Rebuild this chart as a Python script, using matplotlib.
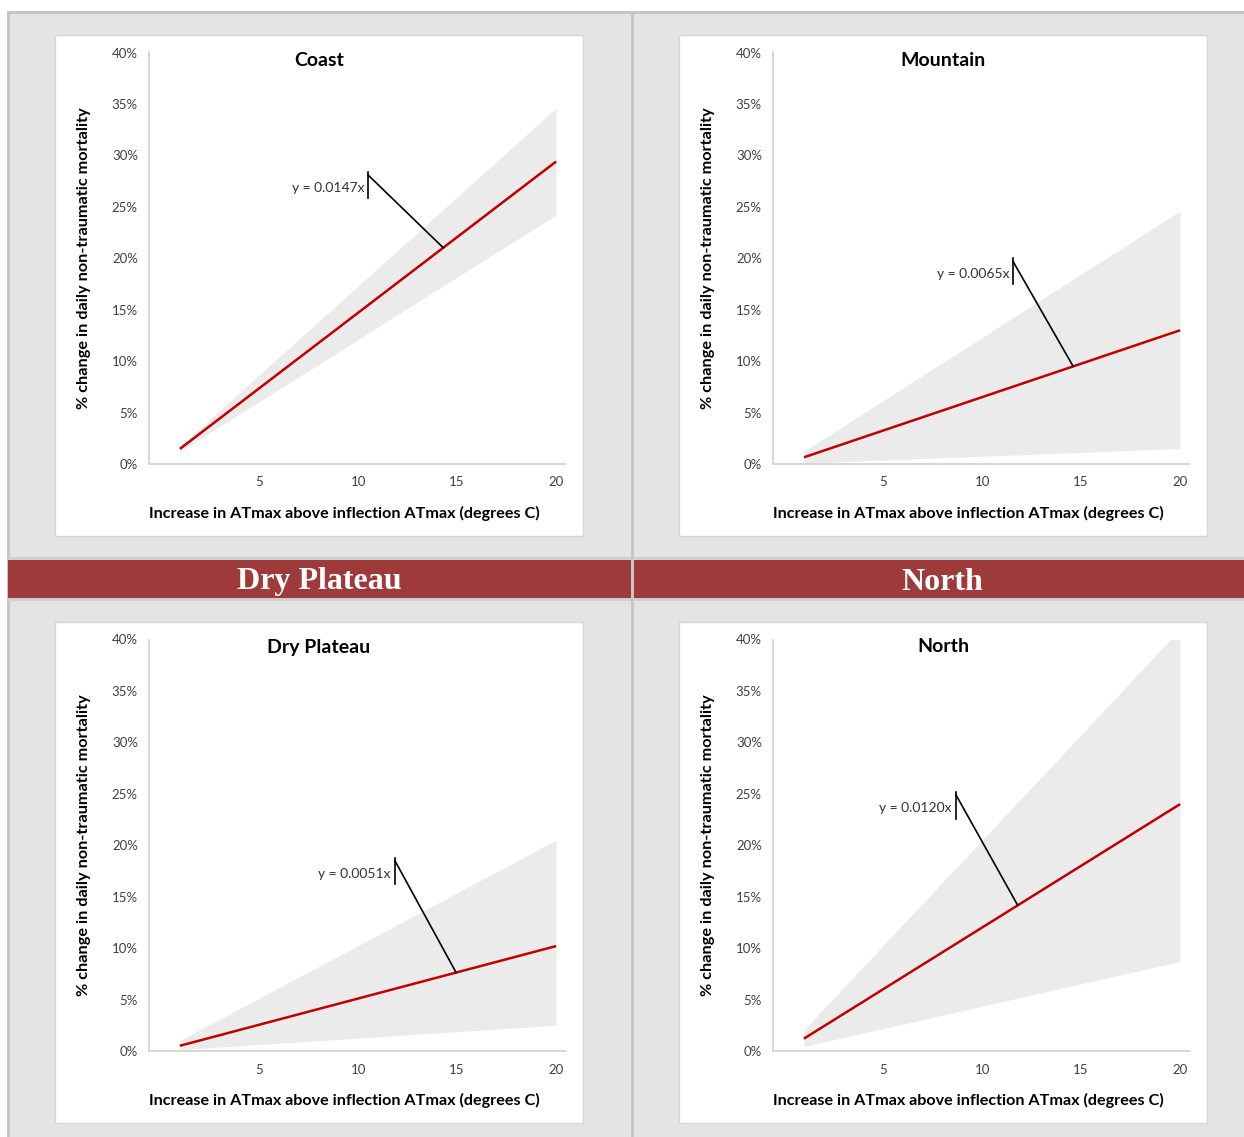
import numpy as np
import matplotlib
matplotlib.use("Agg")
import matplotlib.pyplot as plt
from matplotlib.patches import Rectangle

# ---- data (percent change in daily non-traumatic mortality) ----
x_values = list(range(1, 21))
x_tick_values = [5, 10, 15, 20]
y_tick_values = [0, 5, 10, 15, 20, 25, 30, 35, 40]

regions = ["Coast", "Mountain", "Dry Plateau", "North"]
slopes = [0.0147, 0.0065, 0.0051, 0.0120]

coast_mean = [1.47, 2.94, 4.41, 5.88, 7.35, 8.82, 10.29, 11.76, 13.23, 14.70,
              16.17, 17.64, 19.11, 20.58, 22.05, 23.52, 24.99, 26.46, 27.93, 29.40]
coast_upper = [1.73, 3.46, 5.19, 6.92, 8.65, 10.38, 12.11, 13.84, 15.57, 17.30,
               19.03, 20.76, 22.49, 24.22, 25.95, 27.68, 29.41, 31.14, 32.87, 34.60]
coast_lower = [1.21, 2.42, 3.63, 4.84, 6.05, 7.26, 8.47, 9.68, 10.89, 12.10,
               13.31, 14.52, 15.73, 16.94, 18.15, 19.36, 20.57, 21.78, 22.99, 24.20]

mountain_mean = [0.65, 1.30, 1.95, 2.60, 3.25, 3.90, 4.55, 5.20, 5.85, 6.50,
                 7.15, 7.80, 8.45, 9.10, 9.75, 10.40, 11.05, 11.70, 12.35, 13.00]
mountain_upper = [1.23, 2.46, 3.69, 4.92, 6.15, 7.38, 8.61, 9.84, 11.07, 12.30,
                  13.53, 14.76, 15.99, 17.22, 18.45, 19.68, 20.91, 22.14, 23.37, 24.60]
mountain_lower = [0.08, 0.15, 0.23, 0.30, 0.38, 0.45, 0.53, 0.60, 0.68, 0.75,
                  0.83, 0.90, 0.98, 1.05, 1.13, 1.20, 1.28, 1.35, 1.43, 1.50]

plateau_mean = [0.51, 1.02, 1.53, 2.04, 2.55, 3.06, 3.57, 4.08, 4.59, 5.10,
                5.61, 6.12, 6.63, 7.14, 7.65, 8.16, 8.67, 9.18, 9.69, 10.20]
plateau_upper = [1.03, 2.05, 3.08, 4.10, 5.13, 6.15, 7.18, 8.20, 9.23, 10.25,
                 11.28, 12.30, 13.33, 14.35, 15.38, 16.40, 17.43, 18.45, 19.48, 20.50]
plateau_lower = [0.13, 0.25, 0.38, 0.50, 0.63, 0.75, 0.88, 1.00, 1.13, 1.25,
                 1.38, 1.50, 1.63, 1.75, 1.88, 2.00, 2.13, 2.25, 2.38, 2.50]

north_mean = [1.20, 2.40, 3.60, 4.80, 6.00, 7.20, 8.40, 9.60, 10.80, 12.00,
              13.20, 14.40, 15.60, 16.80, 18.00, 19.20, 20.40, 21.60, 22.80, 24.00]
north_upper = [2.05, 4.10, 6.15, 8.20, 10.25, 12.30, 14.35, 16.40, 18.45, 20.50,
               22.55, 24.60, 26.65, 28.70, 30.75, 32.80, 34.85, 36.90, 38.95, 41.00]
north_lower = [0.44, 0.87, 1.31, 1.74, 2.18, 2.61, 3.05, 3.48, 3.92, 4.35,
               4.79, 5.22, 5.66, 6.09, 6.53, 6.96, 7.40, 7.83, 8.27, 8.70]

means = [coast_mean, mountain_mean, plateau_mean, north_mean]
uppers = [coast_upper, mountain_upper, plateau_upper, north_upper]
lowers = [coast_lower, mountain_lower, plateau_lower, north_lower]

header_labels = ["Dry Plateau", "North"]

# trendline label placement: (bar x, bar top %, bar bottom %, leader tip x)
label_layout = [(10.50, 28.4, 25.9, 14.3),
                (11.56, 20.0, 17.5, 14.6),
                (11.86, 18.8, 16.2, 14.95),
                (8.68, 25.2, 22.6, 11.8)]

# ---- styling ----
W, H = 1244, 1137
BG = "#e4e4e4"
RULE = "#c6c6c6"
HEADER = "#9e3a3a"
BAND = "#ebebeb"
LINE = "#c00000"
FONT = "Lato"

fig = plt.figure(figsize=(W / 100, H / 100), dpi=100, facecolor="white")


def px_rect(x0, y0, x1, y1, **kw):
    """Rectangle in pixel coordinates measured from the top-left corner."""
    r = Rectangle((x0 / W, 1 - y1 / H), (x1 - x0) / W, (y1 - y0) / H,
                  transform=fig.transFigure, figure=fig, **kw)
    fig.patches.append(r)
    return r


# sheet background and rules
px_rect(8, 12, W, H, facecolor=BG, edgecolor="none", zorder=0)
px_rect(7, 11, W, 13.5, facecolor=RULE, edgecolor="none", zorder=1)
px_rect(7, 11, 9.5, H, facecolor=RULE, edgecolor="none", zorder=1)
px_rect(630.5, 11, 633.5, H, facecolor=RULE, edgecolor="none", zorder=3)

# region header band
px_rect(8, 556.5, W, 559.5, facecolor="#cfcfcf", edgecolor="none", zorder=1)
px_rect(8, 559.5, W, 598, facecolor=HEADER, edgecolor="none", zorder=2)
px_rect(8, 598, W, 601, facecolor="#cfcfcf", edgecolor="none", zorder=1)
for cx, lab in zip([319, 942], header_labels):
    fig.text(cx / W, 1 - 582 / H, lab, ha="center", va="center",
             color="white", fontsize=23, fontweight="bold",
             family="Liberation Serif", zorder=5)

# chart panels
col_off = [0, 624]
row_off = [0, 587]
for i, region in enumerate(regions):
    dx = col_off[i % 2]
    dy = row_off[i // 2]
    px_rect(55 + dx, 35 + dy, 583 + dx, 536 + dy, facecolor="white",
            edgecolor="#d6d6d6", linewidth=1, zorder=2)

    left, right, top, bottom = 149 + dx, 566 + dx, 52.5 + dy, 464 + dy
    ax = fig.add_axes([left / W, 1 - bottom / H, (right - left) / W,
                       (bottom - top) / H])
    ax.set_facecolor("none")
    ax.set_zorder(4)

    ax.fill_between(x_values, lowers[i], uppers[i], color=BAND,
                    linewidth=0, zorder=1)
    ax.plot(x_values, means[i], color=LINE, linewidth=1.8, zorder=3,
            solid_capstyle="butt")

    ax.set_xlim(-0.56, 20.5)
    ax.set_ylim(0, 40)
    ax.set_xticks(x_tick_values)
    ax.set_xticklabels([str(v) for v in x_tick_values])
    ax.set_yticks(y_tick_values)
    ax.set_yticklabels([f"{v}%" for v in y_tick_values])
    ax.tick_params(length=0, labelsize=9.5, colors="#404040",
                   labelfontfamily=FONT)
    ax.tick_params(axis="x", pad=9)
    ax.tick_params(axis="y", pad=8)
    for s in ["top", "right"]:
        ax.spines[s].set_visible(False)
    for s in ["left", "bottom"]:
        ax.spines[s].set_color("#d0d0d0")
        ax.spines[s].set_linewidth(1.2)

    # trendline equation with leader line
    bx, btop, bbot, tipx = label_layout[i]
    slope = slopes[i]
    ax.plot([bx, bx], [bbot, btop], color="black", linewidth=1.2, zorder=5,
            clip_on=False)
    ax.plot([bx, tipx], [btop - 0.3, slope * 100 * tipx], color="black",
            linewidth=1.2, zorder=5, clip_on=False)
    ax.text(bx - 0.2, (btop + bbot) / 2 - 0.3, f"y = {slope:.4f}x",
            ha="right", va="center", fontsize=10, color="#333333",
            family=FONT, zorder=6)

    # titles and axis labels
    fig.text((319 + dx) / W, 1 - (60 + dy) / H, region, ha="center",
             va="center", fontsize=14, fontweight="bold", family=FONT,
             color="black", zorder=6)
    fig.text((344 + dx) / W, 1 - (513 + dy) / H,
             "Increase in ATmax above inflection ATmax (degrees C)",
             ha="center", va="center", fontsize=11.6, fontweight="bold",
             family=FONT, color="black", zorder=6)
    fig.text((84 + dx) / W, 1 - (258 + dy) / H,
             "% change in daily non-traumatic mortality", ha="center",
             va="center", rotation=90, fontsize=11.7, fontweight="bold",
             family=FONT, color="black", zorder=6)

fig.savefig("out.png", dpi=100, facecolor="white")
